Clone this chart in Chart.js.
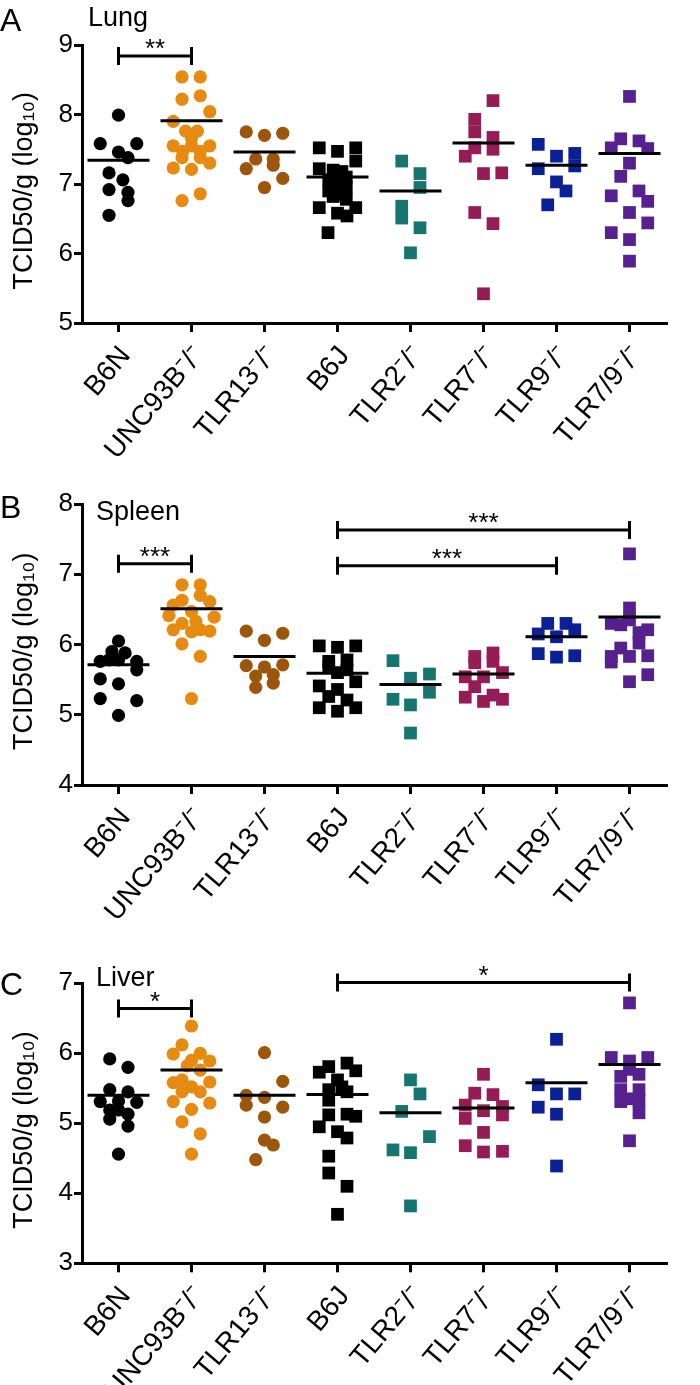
<!DOCTYPE html>
<html lang="en">
<head>
<meta charset="UTF-8">
<title>TCID50/g by genotype</title>
<script src="https://cdn.jsdelivr.net/npm/chart.js@4"></script>
<style>
  body { margin: 0; background: #fff; font-family: "Liberation Sans", Arial, sans-serif; }
  #page { position: relative; width: 700px; height: 1385px; overflow: hidden; }
  .panel { position: absolute; left: 0; width: 700px; }
  .tag { position: absolute; line-height: 1; color: #000; white-space: nowrap; }
  .letter { font-size: 32px; }
  .organ { font-size: 27px; }
</style>
</head>
<body>
<div id="page">
  <div class="panel" style="top:0"><canvas id="lungChart" width="700" height="470"></canvas></div>
  <div class="panel" style="top:470px"><canvas id="spleenChart" width="700" height="470"></canvas></div>
  <div class="panel" style="top:940px"><canvas id="liverChart" width="700" height="445"></canvas></div>

  <div class="tag letter" style="left:0;top:4px">A</div>
  <div class="tag organ" style="left:88px;top:4px">Lung</div>
  <div class="tag letter" style="left:0;top:491px">B</div>
  <div class="tag organ" style="left:96px;top:498px">Spleen</div>
  <div class="tag letter" style="left:0;top:968px">C</div>
  <div class="tag organ" style="left:96px;top:964px">Liver</div>
</div>

<script>
  // groups on the x axis
  const categories = ["B6N", "UNC93B⁻/⁻", "TLR13⁻/⁻", "B6J", "TLR2⁻/⁻", "TLR7⁻/⁻", "TLR9⁻/⁻", "TLR7/9⁻/⁻"];

  // marker colour and shape per group
  const groupColors = ["#000000", "#e68a12", "#9c560c", "#000000", "#16756f", "#961c58", "#0b1f96", "#57208f"];
  const groupShapes = ["circle", "circle", "circle", "rect", "rect", "rect", "rect", "rect"];

  // ---- Lung (log10 TCID50/g) ----
  const lungValues = [
    [7.99, 7.58, 7.58, 7.46, 7.38, 7.16, 7.06, 6.92, 6.88, 6.76, 6.55],
    [8.54, 8.54, 8.22, 8.27, 8.04, 7.90, 7.76, 7.76, 7.66, 7.55, 7.55, 7.55, 7.47, 7.47, 7.38, 7.38, 7.30, 7.23, 7.21, 6.86, 6.76],
    [7.75, 7.70, 7.73, 7.36, 7.36, 7.27, 7.22, 7.08, 6.95],
    [7.52, 7.47, 7.52, 7.33, 7.22, 7.20, 7.18, 7.10, 7.06, 7.00, 6.95, 6.90, 6.85, 6.82, 6.78, 6.66, 6.66, 6.58, 6.54, 6.30],
    [7.33, 7.15, 6.95, 6.68, 6.51, 6.37, 6.01],
    [8.20, 7.93, 7.75, 7.67, 7.52, 7.50, 7.40, 7.15, 7.16, 6.59, 6.43, 5.42],
    [7.57, 7.40, 7.44, 7.26, 7.22, 7.03, 6.90, 6.70],
    [8.26, 7.65, 7.62, 7.52, 7.51, 7.30, 7.11, 6.90, 6.83, 6.75, 6.59, 6.44, 6.30, 6.20, 5.89]
  ];
  // horizontal scatter of each dot, in fractions of a group
  const lungJitter = [
    [0, -0.25, 0.25, 0, 0.13, -0.13, 0.06, -0.13, 0.13, 0.13, -0.13],
    [-0.13, 0.12, -0.13, 0.12, 0.25, -0.25, -0.08, 0.08, 0, -0.25, 0, 0.25, -0.12, 0.12, -0.13, 0.12, 0.25, -0.25, 0, 0.12, -0.13],
    [-0.25, 0, 0.25, -0.12, 0.12, 0.12, -0.25, 0.25, 0],
    [-0.25, 0, 0.25, 0.25, -0.25, -0.06, 0.06, 0.12, -0.12, 0, 0.12, -0.12, 0.06, -0.06, 0.12, -0.25, 0.25, 0, 0.13, -0.13],
    [-0.12, 0.13, 0.13, -0.12, -0.12, 0.13, 0],
    [0.13, -0.12, -0.12, 0.13, -0.12, 0.13, -0.25, 0, 0.25, -0.12, 0.13, 0],
    [-0.25, 0, 0.25, 0.25, -0.25, 0, 0.13, -0.12],
    [0, -0.12, 0.13, -0.25, 0.25, 0, -0.12, 0.13, -0.25, 0.25, 0, 0.25, -0.25, 0, 0]
  ];
  const lungMeans = [7.34, 7.91, 7.46, 7.10, 6.90, 7.59, 7.27, 7.44];
  const lungTicks = [5, 6, 7, 8, 9];
  const lungBrackets = [[0, 1, 8.84, "**"]];

  // ---- Spleen ----
  const spleenValues = [
    [6.05, 5.90, 5.88, 5.78, 5.78, 5.76, 5.76, 5.64, 5.51, 5.44, 5.23, 5.20, 4.99],
    [6.85, 6.85, 6.70, 6.63, 6.56, 6.61, 6.47, 6.41, 6.39, 6.30, 6.33, 6.21, 6.18, 6.21, 6.19, 6.01, 5.83, 5.23],
    [6.19, 6.16, 6.06, 5.70, 5.68, 5.71, 5.55, 5.57, 5.45, 5.39],
    [5.98, 5.96, 5.98, 5.76, 5.78, 5.68, 5.64, 5.60, 5.41, 5.47, 5.36, 5.26, 5.21, 5.10, 5.10, 5.05],
    [5.77, 5.52, 5.58, 5.32, 5.22, 5.14, 4.74],
    [5.83, 5.88, 5.74, 5.76, 5.60, 5.54, 5.54, 5.40, 5.25, 5.19, 5.28, 5.22],
    [6.30, 6.30, 6.15, 6.11, 6.21, 5.87, 5.82, 5.84],
    [7.29, 6.52, 6.35, 6.30, 6.21, 6.17, 6.28, 5.95, 6.02, 5.83, 5.83, 5.84, 5.75, 5.57, 5.47]
  ];
  const spleenJitter = [
    [0, -0.09, 0.09, 0, -0.13, -0.25, 0.25, 0.25, -0.25, 0, -0.25, 0.25, 0],
    [-0.13, 0.12, 0.12, -0.13, -0.25, 0.25, 0, -0.31, 0.31, -0.13, 0.06, -0.25, 0, 0.12, 0.25, -0.13, 0.12, 0],
    [-0.25, 0.25, 0, -0.25, 0, 0.25, -0.12, 0.12, 0.12, -0.12],
    [-0.25, 0, 0.25, -0.12, 0.13, -0.12, 0.13, 0, -0.25, 0.25, 0, -0.12, 0.13, -0.25, 0.25, 0],
    [-0.24, 0, 0.26, 0.26, -0.24, 0, 0],
    [-0.12, 0.13, -0.12, 0.13, 0.26, -0.25, 0, -0.12, -0.25, 0, 0.13, 0.26],
    [-0.12, 0.13, -0.25, 0, 0.25, -0.25, 0, 0.25],
    [0, 0, 0, -0.25, 0.25, 0.13, -0.12, -0.12, 0.13, -0.25, 0, 0.25, -0.25, 0.25, 0]
  ];
  const spleenMeans = [5.71, 6.51, 5.83, 5.59, 5.43, 5.58, 6.11, 6.39];
  const spleenTicks = [4, 5, 6, 7, 8];
  const spleenBrackets = [[0, 1, 7.15, "***"], [3, 7, 7.63, "***"], [3, 6, 7.12, "***"]];

  // ---- Liver ----
  const liverValues = [
    [5.92, 5.80, 5.48, 5.45, 5.31, 5.32, 5.30, 5.19, 5.19, 5.13, 5.06, 4.96, 4.56],
    [6.39, 6.12, 5.99, 6.00, 5.89, 5.90, 5.82, 5.76, 5.58, 5.62, 5.52, 5.59, 5.45, 5.45, 5.31, 5.29, 5.20, 5.02, 4.85, 4.56],
    [6.01, 5.60, 5.40, 5.37, 5.26, 5.23, 5.09, 4.76, 4.69, 4.48],
    [5.81, 5.86, 5.73, 5.75, 5.62, 5.52, 5.48, 5.45, 5.33, 5.12, 5.13, 5.10, 4.95, 4.88, 4.79, 4.53, 4.29, 4.10, 3.70],
    [5.62, 5.42, 5.17, 4.81, 4.62, 4.58, 3.82],
    [5.70, 5.43, 5.41, 5.26, 5.24, 5.18, 5.07, 5.12, 4.87, 4.68, 4.59, 4.60],
    [6.20, 5.55, 5.42, 5.42, 5.23, 5.13, 4.39],
    [6.72, 5.94, 5.89, 5.94, 5.77, 5.67, 5.70, 5.48, 5.48, 5.31, 5.35, 5.32, 5.15, 4.75]
  ];
  const liverJitter = [
    [-0.12, 0.13, -0.12, 0.13, -0.25, 0, 0.25, -0.12, 0, 0.13, -0.12, 0.13, 0],
    [0, -0.13, -0.25, 0.12, 0.25, 0, -0.06, 0.12, -0.25, -0.13, 0, 0.25, -0.13, 0.12, -0.25, 0.25, 0, -0.13, 0.12, 0],
    [0, 0.25, -0.25, 0, -0.25, 0.25, 0, 0, 0.12, -0.12],
    [-0.12, 0.13, -0.25, 0.25, 0, 0.06, -0.12, 0.13, -0.12, -0.12, 0.13, 0.25, -0.25, 0, 0.13, -0.12, -0.12, 0.13, 0],
    [0, 0.13, -0.12, 0.26, -0.24, 0, 0],
    [0, -0.12, 0.13, -0.25, 0.26, 0, -0.25, 0.26, 0, -0.25, 0, 0.26],
    [0, -0.25, 0, 0.25, -0.25, 0, 0],
    [0, -0.25, 0, 0.25, 0, -0.12, 0.13, -0.12, 0.13, -0.12, 0, 0.13, 0.13, 0]
  ];
  const liverMeans = [5.40, 5.76, 5.40, 5.41, 5.15, 5.22, 5.58, 5.84];
  const liverTicks = [3, 4, 5, 6, 7];
  const liverBrackets = [[0, 1, 6.64, "*"], [3, 7, 7.01, "*"]];

  const fontFamily = "'Liberation Sans', Arial, sans-serif";
  Chart.defaults.font.family = fontFamily;
  Chart.defaults.color = "#000";

  // significance bars drawn on top of the plot
  const bracketPlugin = {
    id: "brackets",
    afterDatasetsDraw(chart, args, opts) {
      const { ctx } = chart;
      const xs = chart.scales.x, ys = chart.scales.y;
      ctx.save();
      ctx.strokeStyle = "#000";
      ctx.fillStyle = "#000";
      ctx.lineWidth = 3;
      ctx.font = "26px " + fontFamily;
      ctx.textAlign = "center";
      ctx.textBaseline = "alphabetic";
      opts.items.forEach(([a, b, v, label]) => {
        const x1 = xs.getPixelForValue(a);
        const x2 = xs.getPixelForValue(b);
        const yy = ys.getPixelForValue(v);
        ctx.beginPath();
        ctx.moveTo(x1, yy); ctx.lineTo(x2, yy);
        ctx.moveTo(x1, yy - 9); ctx.lineTo(x1, yy + 9);
        ctx.moveTo(x2, yy - 9); ctx.lineTo(x2, yy + 9);
        ctx.stroke();
        ctx.fillText(label, (x1 + x2) / 2, yy + 1);
      });
      ctx.restore();
    }
  };

  function makePanel(id, values, jitter, means, ticks, brackets, padTop, xAxisHeight) {
    const datasets = [{
      data: means.map((m, i) => ({ x: i, y: m })),
      pointStyle: "line",
      pointRadius: 31,
      pointBorderWidth: 3,
      pointBorderColor: "#000",
      order: 0,
      clip: false
    }];
    values.forEach((group, i) => {
      datasets.push({
        data: group.map((v, k) => ({ x: i + jitter[i][k], y: v })),
        pointStyle: groupShapes[i],
        pointRadius: groupShapes[i] === "circle" ? 6.6 : 9,
        pointBackgroundColor: groupColors[i],
        pointBorderWidth: 0,
        order: 1,
        clip: false
      });
    });

    const axisLine = { display: true, width: 3, color: "#000" };
    const tickMarks = { display: true, drawOnChartArea: false, drawTicks: true, lineWidth: 3, color: "#000" };

    new Chart(document.getElementById(id), {
      type: "scatter",
      data: { datasets },
      plugins: [bracketPlugin],
      options: {
        responsive: false,
        animation: false,
        events: [],
        layout: { padding: { top: padTop, right: 2, bottom: 0, left: 0 } },
        plugins: {
          legend: { display: false },
          tooltip: { enabled: false },
          brackets: { items: brackets }
        },
        scales: {
          x: {
            type: "linear",
            min: -0.5,
            max: categories.length - 0.5,
            afterBuildTicks: s => { s.ticks = categories.map((c, i) => ({ value: i })); },
            afterFit: s => { s.height = xAxisHeight; },
            ticks: {
              autoSkip: false,
              minRotation: 50,
              maxRotation: 50,
              padding: 8,
              labelOffset: 7,
              font: { size: 28 },
              color: "#000",
              callback: v => categories[v]
            },
            grid: { ...tickMarks, tickLength: 9 },
            border: axisLine
          },
          y: {
            min: ticks[0],
            max: ticks[ticks.length - 1],
            afterBuildTicks: s => { s.ticks = ticks.map(v => ({ value: v })); },
            afterFit: s => { s.width = 82; },
            ticks: { padding: 1, font: { size: 26 }, color: "#000" },
            grid: { ...tickMarks, tickLength: 8 },
            border: axisLine,
            title: {
              display: true,
              text: "TCID50/g (log₁₀)\u2002",
              font: { size: 27 },
              color: "#000",
              padding: { top: 8, bottom: 0 }
            }
          }
        }
      }
    });
  }

  makePanel("lungChart", lungValues, lungJitter, lungMeans, lungTicks, lungBrackets, 45, 147);
  makePanel("spleenChart", spleenValues, spleenJitter, spleenMeans, spleenTicks, spleenBrackets, 33.8, 155);
  makePanel("liverChart", liverValues, liverJitter, liverMeans, liverTicks, liverBrackets, 43.3, 121.7);
</script>
</body>
</html>
